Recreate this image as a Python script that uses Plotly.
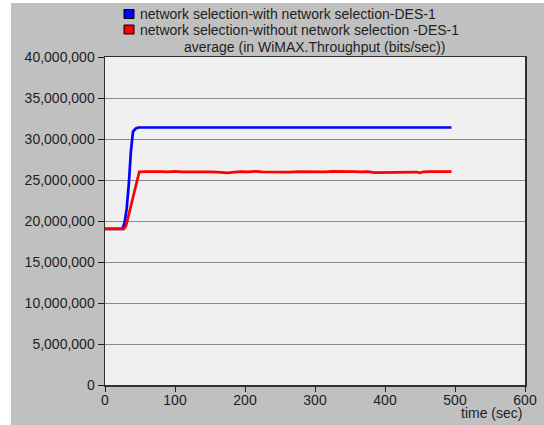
import plotly.graph_objects as go

# ---- data ----
series_names = [
    "network selection-with network selection-DES-1",
    "network selection-without network selection -DES-1",
]
time_with = [0, 10, 20, 25, 28, 31, 34, 37, 40, 44, 48, 100, 200, 300, 400, 495]
thr_with = [19.05e6, 19.05e6, 19.05e6, 19.05e6, 19.8e6, 21.5e6, 24.5e6, 28.5e6,
            30.9e6, 31.3e6, 31.4e6, 31.4e6, 31.4e6, 31.4e6, 31.4e6, 31.4e6]

time_without = [0, 10, 20, 27, 30, 35, 40, 45, 49, 60, 70, 80, 90, 100, 110, 120,
                130, 140, 150, 160, 170, 176, 185, 195, 205, 215, 225, 235, 245,
                255, 265, 275, 285, 295, 305, 315, 325, 335, 345, 355, 365, 375,
                385, 395, 405, 415, 425, 435, 445, 450, 455, 465, 475, 485, 495]
thr_without = [19.05e6, 19.05e6, 19.05e6, 19.05e6, 19.4e6, 21.2e6, 23.0e6, 24.8e6,
               26.0e6, 26.02e6, 25.98e6, 26.03e6, 26.0e6, 26.05e6, 26.0e6, 26.02e6,
               25.98e6, 26.04e6, 26.0e6, 25.97e6, 25.92e6, 25.86e6, 25.95e6, 26.02e6,
               25.98e6, 26.05e6, 26.0e6, 25.97e6, 26.02e6, 26.0e6, 25.96e6, 26.03e6,
               26.0e6, 25.97e6, 26.02e6, 26.0e6, 26.04e6, 26.0e6, 26.02e6, 26.01e6,
               26.0e6, 26.02e6, 25.9e6, 25.92e6, 25.95e6, 26.0e6, 25.97e6, 26.0e6,
               25.97e6, 25.88e6, 26.0e6, 26.02e6, 26.03e6, 26.02e6, 26.02e6]
series_colors = ["#0000ff", "#ff0000"]

x_ticks = [0, 100, 200, 300, 400, 500, 600]
y_ticks = [0, 5e6, 10e6, 15e6, 20e6, 25e6, 30e6, 35e6, 40e6]
y_tick_labels = ["0", "5,000,000", "10,000,000", "15,000,000", "20,000,000",
                 "25,000,000", "30,000,000", "35,000,000", "40,000,000"]
title_text = "average (in WiMAX.Throughput (bits/sec))"
x_title = "time (sec)"

FONT = "Liberation Sans, Arial, sans-serif"
TXT = "#1e1e1e"
FS = 14

fig = go.Figure()
for t, v, c, n in [(time_with, thr_with, series_colors[0], series_names[0]),
                   (time_without, thr_without, series_colors[1], series_names[1])]:
    fig.add_trace(go.Scatter(x=t, y=v, mode="lines", line=dict(color=c, width=2.7),
                             name=n, showlegend=False))

L, R, T, B = 105, 19, 57, 40
W, H = 544, 425
pw, ph = W - L - R, H - T - B

def px(xp):
    return (xp - L) / pw

def py(yp):
    return (H - B - yp) / ph

annotations = [
    dict(text=title_text, x=px(314), y=py(47), xref="paper", yref="paper",
         xanchor="center", yanchor="middle",
         showarrow=False, font=dict(size=FS, color=TXT)),
    dict(text=x_title, x=px(491), y=py(413), xref="paper", yref="paper",
         xanchor="center", yanchor="middle",
         showarrow=False, font=dict(size=FS, color=TXT)),
]
shapes = [
    dict(type="rect", xref="paper", yref="paper", x0=px(0), x1=px(11),
         y0=py(H), y1=py(0), fillcolor="white", line=dict(width=0), layer="below"),
    dict(type="rect", xref="paper", yref="paper", x0=px(0), x1=px(W),
         y0=py(3), y1=py(0), fillcolor="white", line=dict(width=0), layer="below"),
]
# legend (square swatches + labels), drawn above the title
for i, (n, c) in enumerate(zip(series_names, series_colors)):
    yc = 14 + 15.5 * i
    shapes.append(dict(type="rect", xref="paper", yref="paper",
                       x0=px(124), x1=px(134), y0=py(yc + 4.5), y1=py(yc - 4.5),
                       fillcolor=c, line=dict(color="black", width=1)))
    annotations.append(dict(text=n, x=px(138), y=py(yc), xref="paper", yref="paper",
                            xanchor="left", yanchor="middle", showarrow=False,
                            font=dict(size=FS, color=TXT)))

fig.update_layout(
    width=W, height=H,
    margin=dict(l=L, r=R, t=T, b=B, autoexpand=False),
    paper_bgcolor="#c0c0c0",
    plot_bgcolor="#f0f0f0",
    font=dict(family=FONT, size=FS, color=TXT),
    showlegend=False,
    xaxis=dict(range=[0, 600], tickvals=x_ticks, ticks="outside", ticklen=5,
               ticklabelstandoff=-3,
               tickcolor=TXT, showgrid=False, zeroline=False,
               showline=True, linecolor="#303030", linewidth=1.5, mirror=True,
               fixedrange=True, tickfont=dict(size=FS)),
    yaxis=dict(range=[0, 40e6], tickvals=y_ticks, ticktext=y_tick_labels,
               ticks="outside", ticklen=6, tickcolor=TXT,
               showgrid=True, gridcolor="#8a8a8a", gridwidth=1, zeroline=False,
               showline=True, linecolor="#303030", linewidth=1.5, mirror=True,
               fixedrange=True, tickfont=dict(size=FS)),
    annotations=annotations,
    shapes=shapes,
)

fig.write_html(
    "out.html",
    config={"displayModeBar": False, "staticPlot": True},
    post_script=(
        "document.body.style.margin='0px';"
        "document.body.style.overflow='hidden';"
        "document.body.style.background='#c0c0c0';"
        "document.documentElement.style.overflow='hidden';"
        "document.documentElement.style.background='#c0c0c0';"
    ),
)
